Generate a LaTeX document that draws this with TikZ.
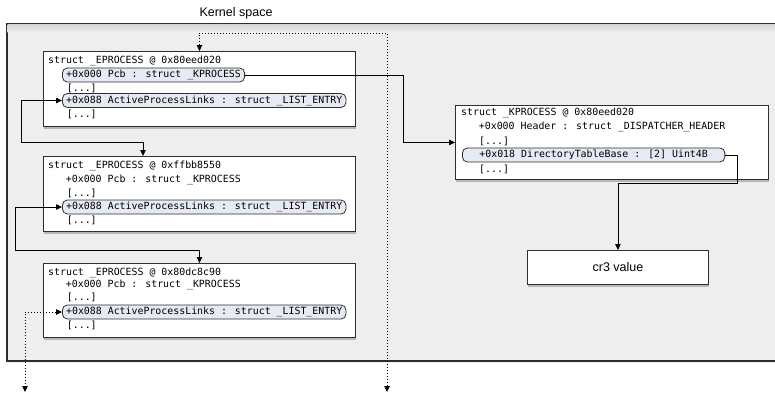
\documentclass[tikz,border=0pt]{standalone}
\usepackage{fontspec}
\setmainfont{Liberation Sans}
\newfontfamily\monofont{DejaVu Sans Mono}
\usetikzlibrary{arrows.meta,shadows}
\definecolor{spacegray}{HTML}{EEEEEE}
\definecolor{fieldblue}{HTML}{E6EAF3}
\definecolor{edgegray}{HTML}{2E2E2E}
\tikzset{
  structbox/.style={draw=edgegray, fill=white, line width=0.9bp, anchor=north west,
    minimum width=312bp, minimum height=75bp, inner sep=0pt,
    drop shadow={shadow xshift=1bp, shadow yshift=-2.5bp, opacity=0.5}},
  member/.style={anchor=west, inner sep=0pt, text=black,
    font=\monofont\fontsize{9.9bp}{12bp}\selectfont},
  field/.style={member, draw=edgegray, fill=fieldblue, rounded corners=5bp,
    inner xsep=3.7bp, minimum height=14bp, line width=0.8bp},
  ptr/.style={line width=0.8bp, -{Triangle[length=6bp,width=5.5bp]}},
  flink/.style={ptr, {Triangle[length=6bp,width=5.5bp]}-{Triangle[length=6bp,width=5.5bp]}},
  cont/.style={flink, dash pattern=on 1bp off 2bp}
}
\begin{document}
\begin{tikzpicture}[x=1bp, y=-1bp]
  \useasboundingbox (0,0) rectangle (775,394);

  % kernel space area
  \draw[fill=spacegray, draw=edgegray, line width=1.2bp,
    drop shadow={shadow xshift=0bp, shadow yshift=-2bp, opacity=0.12}] (7,24) rectangle (779,361);
  \shade[top color=black!16, bottom color=spacegray] (7.6,24.6) rectangle (778,32);
  \node (kspace) at (236,13) {\fontsize{12.5bp}{14bp}\selectfont Kernel space};

  % first _EPROCESS
  \node[structbox] (proc1) at (43,51) {};
  \node[member] (t1) at (48,61) {struct \_EPROCESS @ 0x80eed020};
  \node[field] (pcb1) at (62,75) {+0x000 Pcb : struct \_KPROCESS};
  \node[member] (d1a) at (66.7,88) {[...]};
  \node[field] (apl1) at (62,100.5) {+0x088 ActiveProcessLinks : struct \_LIST\_ENTRY};
  \node[member] (d1b) at (66.7,114) {[...]};

  % second _EPROCESS
  \node[structbox] (proc2) at (43,156) {};
  \node[member] (t2) at (48,166) {struct \_EPROCESS @ 0xffbb8550};
  \node[member] (pcb2) at (65.7,180) {+0x000 Pcb : struct \_KPROCESS};
  \node[member] (d2a) at (66.7,193) {[...]};
  \node[field] (apl2) at (62,207) {+0x088 ActiveProcessLinks : struct \_LIST\_ENTRY};
  \node[member] (d2b) at (66.7,220) {[...]};

  % third _EPROCESS
  \node[structbox, minimum height=74bp] (proc3) at (43,263) {};
  \node[member] (t3) at (48,273) {struct \_EPROCESS @ 0x80dc8c90};
  \node[member] (pcb3) at (65.7,285) {+0x000 Pcb : struct \_KPROCESS};
  \node[member] (d3a) at (66.7,297.5) {[...]};
  \node[field] (apl3) at (62,312) {+0x088 ActiveProcessLinks : struct \_LIST\_ENTRY};
  \node[member] (d3b) at (66.7,325) {[...]};

  % _KPROCESS
  \node[structbox, minimum width=313bp, minimum height=74bp] (kproc) at (455,105) {};
  \node[member] (kt) at (461,113) {struct \_KPROCESS @ 0x80eed020};
  \node[member] (hdr) at (478.7,127) {+0x000 Header : struct \_DISPATCHER\_HEADER};
  \node[member] (dka) at (479,141) {[...]};
  \node[field, inner xsep=17bp] (dtb) at (462,155) {+0x018 DirectoryTableBase : [2] Uint4B};
  \node[member] (dkb) at (479,169) {[...]};

  \node[structbox, minimum width=181bp, minimum height=34bp,
    font=\fontsize{12.5bp}{14bp}\selectfont] (cr3) at (527,250) {cr3 value};

  \coordinate (out1) at (25,392);
  \coordinate (out2) at (387,392);

  \draw[ptr] (pcb1.east) -- ++(158,0) |- (kproc.west);
  \draw[ptr] (dtb.east) -| (737,183) -| (cr3.north);
  \draw[flink] (apl1.west) -| (21,142) -| ([xshift=100bp]proc2.north west);
  \draw[flink] (apl2.west) -| (15,250) -| (proc3.north);
  \draw[cont] (proc1.north) |- (387,33) -- (out2);
  \draw[cont] (apl3.west) -| (out1);
\end{tikzpicture}
\end{document}
